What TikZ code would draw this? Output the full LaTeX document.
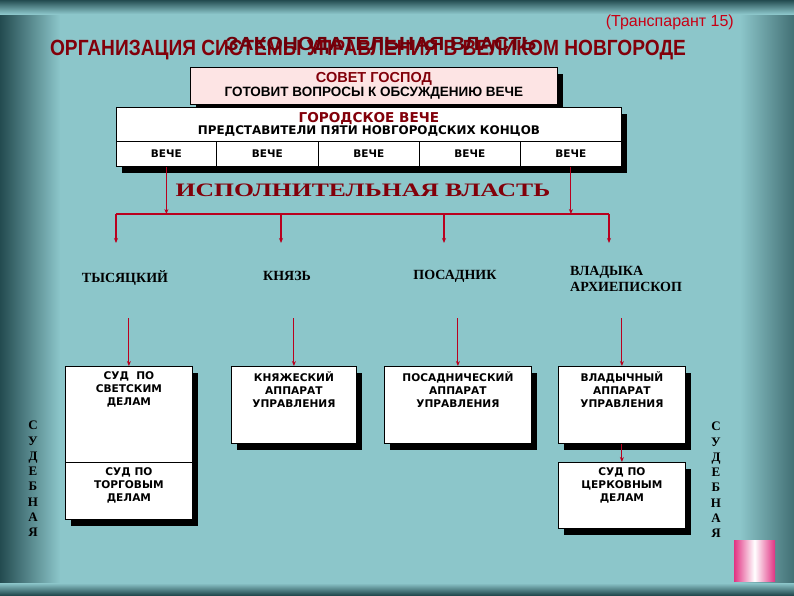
\documentclass[tikz,border=0pt]{standalone}
\usepackage{fontspec}
\usetikzlibrary{shadows,arrows.meta}
\setmainfont{DejaVu Sans}
\newfontfamily\ttlfont{Liberation Sans}[FakeStretch=0.87]
\newfontfamily\zakfont{Liberation Sans}[FakeStretch=1.1]
\newfontfamily\sansfont{Liberation Sans}
\newfontfamily\wserif{Liberation Serif}[FakeStretch=1.35]
\newfontfamily\lserif{Liberation Serif}
\definecolor{bg}{RGB}{140,198,202}
\definecolor{edge}{RGB}{35,75,80}
\definecolor{dred}{RGB}{130,0,10}
\definecolor{zred}{RGB}{110,0,10}
\definecolor{lred}{RGB}{200,0,20}
\definecolor{pinkbox}{RGB}{253,228,228}
\definecolor{linec}{RGB}{185,0,30}
\definecolor{pk}{RGB}{225,50,130}
\tikzset{
 sbox/.style={draw=black, line width=0.8pt, fill=white, anchor=north west, inner sep=0pt,
   drop shadow={shadow xshift=6pt, shadow yshift=-7pt, fill=black, opacity=1}},
 plain/.style={draw=black, line width=0.8pt, fill=white, anchor=north west, inner sep=0pt},
 btxt/.style={font=\bfseries\fontsize{10.6}{13}\selectfont, align=center, text=black, inner sep=0pt},
 ctxt/.style={font=\bfseries\fontsize{10.5}{13}\selectfont},
 conn/.style={draw=linec, line width=1.1pt},
 arr/.style={conn, -{Stealth[length=5pt,width=4pt]}},
 lbl/.style={font=\lserif\bfseries\fontsize{14}{16}\selectfont, inner sep=0pt, align=left},
 vert/.style={font=\lserif\bfseries\fontsize{13}{15.3}\selectfont, align=center, inner sep=0pt},
}
\begin{document}
\begin{tikzpicture}[x=1pt,y=-1pt]
\useasboundingbox (0,0) rectangle (794,595);
% background
\fill[bg] (0,0) rectangle (794,595);
\shade[left color=edge, right color=bg] (0,0) rectangle (60,595);
\shade[left color=bg, right color=edge!70!bg] (740,0) rectangle (794,595);
\shade[top color=edge, bottom color=bg] (0,0) rectangle (794,14);
\shade[top color=bg, bottom color=edge] (0,583) rectangle (794,595);

% header
\node[anchor=east, font=\sansfont\fontsize{16}{18}\selectfont, text=lred, inner sep=0pt] (transp) at (734,22) {(Транспарант 15)};
\node[font=\ttlfont\bfseries\fontsize{22}{24}\selectfont, text=dred, inner sep=0pt] (title) at (368,50) {ОРГАНИЗАЦИЯ СИСТЕМЫ УПРАВЛЕНИЯ В ВЕЛИКОМ НОВГОРОДЕ};
\node[font=\zakfont\bfseries\fontsize{19}{22}\selectfont, text=zred, inner sep=0pt] (zak) at (381,46) {ЗАКОНОДАТЕЛЬНАЯ ВЛАСТЬ};

% Совет господ
\node[sbox, fill=pinkbox, minimum width=367pt, minimum height=37pt, align=center,
      font=\sansfont\bfseries\fontsize{13.5}{14}\selectfont] (sovet) at (190,67)
  {\textcolor{dred}{\fontsize{14.5}{14}\selectfont СОВЕТ ГОСПОД}\\ГОТОВИТ ВОПРОСЫ К ОБСУЖДЕНИЮ ВЕЧЕ};

% Городское вече
\node[sbox, minimum width=505pt, minimum height=59pt] (vall) at (116,107) {};
\node[plain, minimum width=505pt, minimum height=34pt, align=center,
      font=\bfseries\fontsize{11.9}{12.5}\selectfont] (vtop) at (116,107)
  {\textcolor{dred}{\fontsize{13.6}{12.5}\selectfont ГОРОДСКОЕ ВЕЧЕ}\\ПРЕДСТАВИТЕЛИ ПЯТИ НОВГОРОДСКИХ КОНЦОВ};
\node[plain, ctxt, minimum width=100pt, minimum height=25pt] (c1) at (116,141) {ВЕЧЕ};
\node[plain, ctxt, minimum width=102pt, minimum height=25pt] (c2) at (216,141) {ВЕЧЕ};
\node[plain, ctxt, minimum width=101pt, minimum height=25pt] (c3) at (318,141) {ВЕЧЕ};
\node[plain, ctxt, minimum width=101pt, minimum height=25pt] (c4) at (419,141) {ВЕЧЕ};
\node[plain, ctxt, minimum width=101pt, minimum height=25pt] (c5) at (520,141) {ВЕЧЕ};

% Исполнительная власть
\node[font=\wserif\bfseries\fontsize{19}{20}\selectfont, text=dred, inner sep=0pt] (isp) at (363,190) {ИСПОЛНИТЕЛЬНАЯ ВЛАСТЬ};

\coordinate (j1) at (c1.south |- 0,214);
\coordinate (j2) at (c5.south |- 0,214);
\coordinate (h1) at (116,214);
\coordinate (h2) at (281,214);
\coordinate (h3) at (444,214);
\coordinate (h4) at (609,214);
\coordinate (e1) at (116,243);
\coordinate (e2) at (281,243);
\coordinate (e3) at (444,243);
\coordinate (e4) at (609,243);
\draw[arr] (c1.south) -- (j1);
\draw[arr] (c5.south) -- (j2);
\draw[conn] (h1) -- (h4);
\draw[arr] (h1) -- (e1);
\draw[arr] (h2) -- (e2);
\draw[arr] (h3) -- (e3);
\draw[arr] (h4) -- (e4);

% officials
\node[lbl] (tys) at (125,278) {ТЫСЯЦКИЙ};
\node[lbl] (knz) at (287,276) {КНЯЗЬ};
\node[lbl] (pos) at (455,276) {ПОСАДНИК};
\node[lbl, anchor=west] (vld) at (570,279) {ВЛАДЫКА\\АРХИЕПИСКОП};

% boxes
\node[sbox, minimum width=127pt, minimum height=153pt] (b1) at (65,366) {};
\draw[line width=0.8pt] (b1.west |- 0,462) -- (b1.east |- 0,462);
\node[sbox, minimum width=125pt, minimum height=77pt] (b2) at (231,366) {};
\node[sbox, minimum width=147pt, minimum height=77pt] (b3) at (384,366) {};
\node[sbox, minimum width=127pt, minimum height=77pt] (b4) at (558,366) {};
\node[sbox, minimum width=127pt, minimum height=66pt] (b5) at (558,462) {};

\node[btxt, anchor=north] (t1) at (b1.north |- 0,371) {СУД~~ПО\\СВЕТСКИМ\\ДЕЛАМ};
\node[btxt, anchor=north] (t1b) at (b1.north |- 0,467) {СУД ПО\\ТОРГОВЫМ\\ДЕЛАМ};
\node[btxt, anchor=north] (t2) at (b2.north |- 0,371) {КНЯЖЕСКИЙ\\АППАРАТ\\УПРАВЛЕНИЯ};
\node[btxt, anchor=north] (t3) at (b3.north |- 0,371) {ПОСАДНИЧЕСКИЙ\\АППАРАТ\\УПРАВЛЕНИЯ};
\node[btxt, anchor=north] (t4) at (b4.north |- 0,371) {ВЛАДЫЧНЫЙ\\АППАРАТ\\УПРАВЛЕНИЯ};
\node[btxt, anchor=north] (t5) at (b5.north |- 0,467) {СУД ПО\\ЦЕРКОВНЫМ\\ДЕЛАМ};

\coordinate (s1) at (b1.north |- 0,318);
\coordinate (s2) at (b2.north |- 0,318);
\coordinate (s3) at (b3.north |- 0,318);
\coordinate (s4) at (b4.north |- 0,318);
\draw[arr] (s1) -- (b1.north);
\draw[arr] (s2) -- (b2.north);
\draw[arr] (s3) -- (b3.north);
\draw[arr] (s4) -- (b4.north);
\draw[arr] (b4.south) -- (b5.north);

% судебная
\node[vert] (sudL) at (33,479) {С\\У\\Д\\Е\\Б\\Н\\А\\Я};
\node[vert] (sudR) at (716,480) {С\\У\\Д\\Е\\Б\\Н\\А\\Я};

% pink button
\shade[left color=pk, right color=pk, middle color=white] (734,540) rectangle (775,581);
\end{tikzpicture}
\end{document}
